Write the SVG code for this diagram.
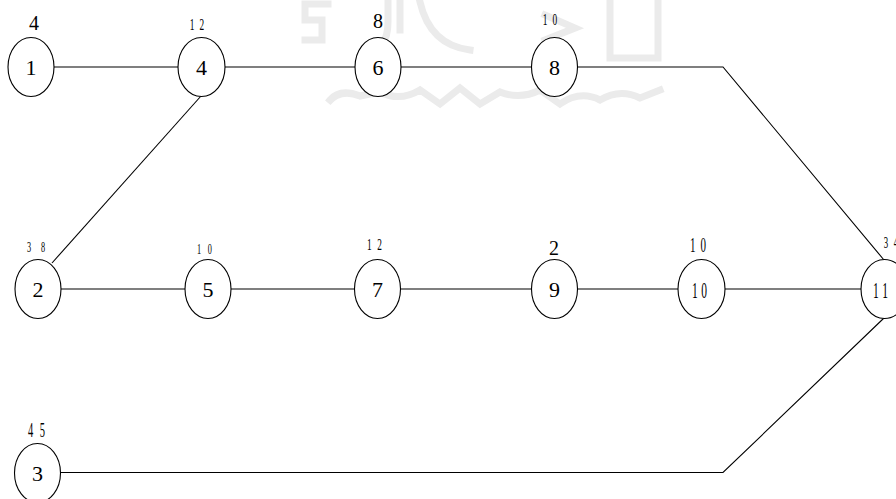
<svg xmlns="http://www.w3.org/2000/svg" width="896" height="499" viewBox="0 0 896 499">
<style>
.wm{fill:none;stroke:#ebebeb;stroke-width:7;stroke-linecap:square}
.edge{fill:none;stroke:#000;stroke-width:1.1}
.node ellipse{fill:#fff;stroke:#000;stroke-width:1.1}
.num{font-family:"Liberation Serif",serif;font-size:22px;fill:#000;text-anchor:middle}
.lbl{font-family:"Liberation Serif",serif;font-size:20px;fill:#000;text-anchor:middle}
.nar{font-family:"Liberation Serif",serif;fill:#000;text-anchor:middle}
</style>
<rect width="896" height="499" fill="#fff"/>
<g id="watermark">
<path class="wm" d="M328 4 H305 V20 H322 V40 H305"/>
<path class="wm" d="M388 2 V22 Q388 50 365 56 M420 2 Q430 45 470 50 M400 2 V30"/>
<path class="wm" d="M610 2 V58 H658 V2"/>
<path class="wm" d="M545 15 L575 28 L545 40"/>
<path class="wm" d="M330 100 Q340 88 360 96 L380 92 Q400 102 420 90 L440 104 L460 88 L480 104 L500 92 Q520 100 540 90 L560 104 Q580 90 600 100 Q620 88 640 98 L660 90"/>
</g>
<g id="connectors">
<line class="edge" x1="54" y1="67" x2="178" y2="67"/>
<line class="edge" x1="225" y1="67" x2="355" y2="67"/>
<line class="edge" x1="401" y1="67" x2="532" y2="67"/>
<polyline class="edge" points="577,67 723,67 884,260"/>
<line class="edge" x1="201" y1="96" x2="52" y2="263"/>
<line class="edge" x1="61" y1="289" x2="185" y2="289"/>
<line class="edge" x1="231" y1="289" x2="354" y2="289"/>
<line class="edge" x1="401" y1="289" x2="532" y2="289"/>
<line class="edge" x1="577" y1="289" x2="678" y2="289"/>
<line class="edge" x1="725" y1="289" x2="861" y2="289"/>
<polyline class="edge" points="61,472.5 723,472.5 884,318"/>
</g>
<g id="n1" class="node"><ellipse cx="31" cy="67" rx="23" ry="29.5"/><text class="num" x="31" y="75">1</text><text class="lbl" x="34" y="30">4</text></g>
<g id="n4" class="node"><ellipse cx="201.5" cy="67" rx="23.5" ry="29.5"/><text class="num" x="201.5" y="75">4</text><text class="nar" font-size="17" transform="translate(197,30) scale(0.55,1)" textLength="26" lengthAdjust="spacing">12</text></g>
<g id="n6" class="node"><ellipse cx="378" cy="67" rx="23" ry="29.5"/><text class="num" x="378" y="75">6</text><text class="lbl" x="378" y="28">8</text></g>
<g id="n8" class="node"><ellipse cx="554.5" cy="67" rx="23" ry="29.5"/><text class="num" x="554.5" y="75">8</text><text class="nar" font-size="17" transform="translate(550,25) scale(0.55,1)" textLength="26" lengthAdjust="spacing">10</text></g>
<g id="n2" class="node"><ellipse cx="38" cy="289" rx="23" ry="29.5"/><text class="num" x="38" y="297">2</text><text class="nar" font-size="15" transform="translate(36,252) scale(0.55,1)" textLength="33" lengthAdjust="spacing">38</text></g>
<g id="n5" class="node"><ellipse cx="208" cy="289" rx="23" ry="29.5"/><text class="num" x="208" y="297">5</text><text class="nar" font-size="15" transform="translate(204.5,254) scale(0.55,1)" textLength="27" lengthAdjust="spacing">10</text></g>
<g id="n7" class="node"><ellipse cx="377.5" cy="289" rx="23" ry="29.5"/><text class="num" x="377.5" y="297">7</text><text class="nar" font-size="17" transform="translate(374.5,250) scale(0.55,1)" textLength="27" lengthAdjust="spacing">12</text></g>
<g id="n9" class="node"><ellipse cx="554.5" cy="289" rx="23" ry="29.5"/><text class="num" x="554.5" y="297">9</text><text class="lbl" font-size="18" x="554" y="255">2</text></g>
<g id="n10" class="node"><ellipse cx="701.5" cy="289" rx="23.5" ry="29.5"/><text class="nar" font-size="23" transform="translate(699.5,298) scale(0.5,1)" textLength="30" lengthAdjust="spacing">10</text><text class="nar" font-size="22" transform="translate(698,252) scale(0.5,1)" textLength="32" lengthAdjust="spacing">10</text></g>
<g id="n11" class="node"><ellipse cx="884.5" cy="289" rx="23.5" ry="29.5"/><text class="nar" font-size="23" transform="translate(880.5,298) scale(0.5,1)" textLength="30" lengthAdjust="spacing">11</text><text class="nar" font-size="16" transform="translate(891,248) scale(0.55,1)" textLength="26" lengthAdjust="spacing">34</text></g>
<g id="n3" class="node"><ellipse cx="37.5" cy="473" rx="23" ry="29.5"/><text class="num" font-size="24" x="37.5" y="481">3</text><text class="nar" font-size="21" transform="translate(36.5,437) scale(0.5,1)" textLength="34" lengthAdjust="spacing">45</text></g>
</svg>
